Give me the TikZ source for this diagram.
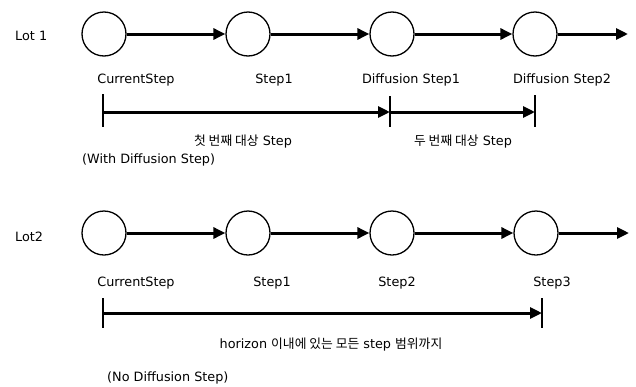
\documentclass[tikz,border=0pt]{standalone}
\usepackage{fontspec}
\setmainfont{DejaVu Sans}
\newfontfamily\kr{Noto Sans CJK KR}
\usetikzlibrary{arrows.meta}
\begin{document}
\begin{tikzpicture}[x=1pt,y=-1pt,
  stepnode/.style={circle,draw=black,line width=1.3pt,fill=white,minimum size=44pt,inner sep=0pt},
  flow/.style={line width=3pt,-{Triangle[length=12pt,width=11pt]}},
  span/.style={line width=3pt,-{Triangle[length=12pt,width=11pt]}},
  tick/.style={line width=1.6pt},
  lbl/.style={font=\fontsize{12.8}{14}\selectfont,inner sep=0pt},
  klbl/.style={font=\fontsize{12.8}{14}\selectfont,inner sep=0pt}]
\useasboundingbox (0,0) rectangle (636,386);
% Row 1
\node[lbl,anchor=west] (lot1) at (15,36) {Lot 1};
\node[stepnode] (a1) at (104,34) {};
\node[stepnode] (a2) at (248,34) {};
\node[stepnode] (a3) at (392,34) {};
\node[stepnode] (a4) at (535,34) {};
\coordinate (a5) at (628,34);
\draw[flow] (a1) -- (a2);
\draw[flow] (a2) -- (a3);
\draw[flow] (a3) -- (a4);
\draw[flow] (a4) -- (a5);
\node[lbl] (la1) at (136,80) {CurrentStep};
\node[lbl] (la2) at (274,80) {Step1};
\node[lbl] (la3) at (411,80) {Diffusion Step1};
\node[lbl] (la4) at (562,80) {Diffusion Step2};
% bracket 1
\coordinate (t1a) at (103,94); \coordinate (t1b) at (103,127);
\coordinate (t2a) at (390,96); \coordinate (t2b) at (390,127);
\coordinate (t3a) at (535,95); \coordinate (t3b) at (535,127);
\draw[tick] (t1a) -- (t1b);
\draw[tick] (t2a) -- (t2b);
\draw[tick] (t3a) -- (t3b);
\coordinate (s1) at (103,112); \coordinate (s2) at (390,112); \coordinate (s3) at (535,112);
\draw[span] (s1) -- (s2);
\draw[span] (s2) -- (s3);
\node[klbl] (first) at (243,142) {{\kr 첫 번째 대상} Step};
\node[klbl] (second) at (463,142) {{\kr 두 번째 대상} Step};
\node[lbl,anchor=west] (withd) at (82,160) {(With Diffusion Step)};
% Row 2
\node[lbl,anchor=west] (lot2) at (15,237) {Lot2};
\node[stepnode] (b1) at (104,233) {};
\node[stepnode] (b2) at (248,233) {};
\node[stepnode] (b3) at (392,233) {};
\node[stepnode] (b4) at (536,233) {};
\coordinate (b5) at (629,233);
\draw[flow] (b1) -- (b2);
\draw[flow] (b2) -- (b3);
\draw[flow] (b3) -- (b4);
\draw[flow] (b4) -- (b5);
\node[lbl] (lb1) at (136,283) {CurrentStep};
\node[lbl] (lb2) at (272,283) {Step1};
\node[lbl] (lb3) at (397,283) {Step2};
\node[lbl] (lb4) at (552,283) {Step3};
% bracket 2
\coordinate (u1a) at (103,298); \coordinate (u1b) at (103,328);
\coordinate (u2a) at (542,298); \coordinate (u2b) at (542,328);
\draw[tick] (u1a) -- (u1b);
\draw[tick] (u2a) -- (u2b);
\coordinate (r1) at (103,313); \coordinate (r2) at (542,313);
\draw[span] (r1) -- (r2);
\node[klbl] (horiz) at (331,345) {horizon {\kr 이내에 있는 모든} step {\kr 범위까지}};
\node[lbl,anchor=west] (nod) at (107,378) {(No Diffusion Step)};
\end{tikzpicture}
\end{document}
